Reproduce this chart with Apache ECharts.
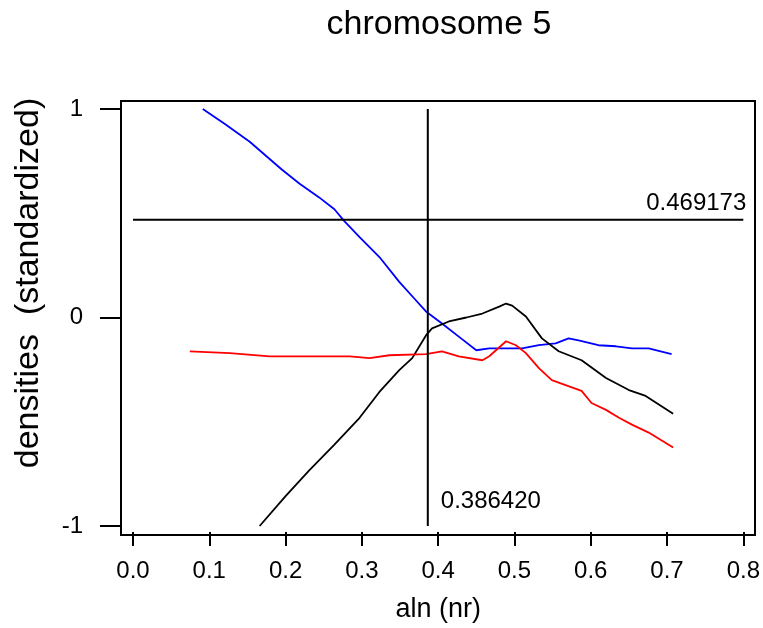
<!DOCTYPE html>
<html><head><meta charset="utf-8">
<script src="https://cdn.jsdelivr.net/npm/echarts@6/dist/echarts.min.js"></script>
<style>html,body{margin:0;padding:0;background:#fff}#c{width:763px;height:628px}</style>
</head><body><div id="c"></div>
<script>
const titleText = 'chromosome 5';
const xName = 'aln (nr)';
const yName = 'densities  (standardized)';
const xTicks = [0.0, 0.1, 0.2, 0.3, 0.4, 0.5, 0.6, 0.7, 0.8];
const yTicks = [-1, 0, 1];

const blueX = [0.0915,0.120,0.153,0.195,0.218,0.244,0.264,0.277,0.297,0.323,0.349,0.369,0.384,0.405,0.430,0.450,0.467,0.489,0.510,0.532,0.554,0.571,0.584,0.610,0.633,0.654,0.676,0.706];
const blueY = [1.0,0.929,0.843,0.710,0.643,0.576,0.519,0.462,0.386,0.290,0.171,0.090,0.029,-0.029,-0.100,-0.157,-0.148,-0.148,-0.148,-0.133,-0.124,-0.100,-0.110,-0.133,-0.138,-0.148,-0.148,-0.176];

const blackX = [0.166,0.200,0.231,0.264,0.297,0.323,0.349,0.366,0.384,0.392,0.414,0.437,0.458,0.480,0.489,0.497,0.515,0.536,0.558,0.588,0.620,0.650,0.672,0.708];
const blackY = [-1.0,-0.857,-0.733,-0.610,-0.481,-0.357,-0.252,-0.195,-0.086,-0.052,-0.019,0.0,0.019,0.052,0.067,0.057,0.005,-0.100,-0.162,-0.205,-0.290,-0.348,-0.376,-0.462];

const redX = [0.0745,0.127,0.179,0.244,0.284,0.310,0.336,0.384,0.405,0.427,0.458,0.467,0.489,0.502,0.515,0.532,0.549,0.567,0.588,0.601,0.620,0.637,0.654,0.676,0.708];
const redY = [-0.162,-0.171,-0.186,-0.186,-0.186,-0.195,-0.181,-0.176,-0.162,-0.186,-0.205,-0.186,-0.114,-0.133,-0.171,-0.243,-0.300,-0.324,-0.352,-0.410,-0.443,-0.481,-0.514,-0.552,-0.624];

const vLineX = 0.386420;
const vLineSpan = [-1, 1];
const hLineY = 0.469173;
const hLineSpan = [0, 0.8];

const zip = (xs, ys) => xs.map((x, i) => [x, ys[i]]);
const FONT = 'Liberation Sans, Arial, sans-serif';
const lblStyle = {fontFamily: FONT, fontSize: 24, color: '#000', opacity: 1};

const chart = echarts.init(document.getElementById('c'), null, {renderer: 'canvas'});
chart.setOption({
  animation: false,
  backgroundColor: '#fff',
  title: {
    text: titleText, left: 434, top: 3, textAlign: 'center',
    textStyle: {fontFamily: FONT, fontSize: 34, fontWeight: 'normal', color: '#000'}
  },
  graphic: [{
    type: 'text', x: 29, y: 283, rotation: Math.PI / 2,
    style: {text: yName, textAlign: 'center', textVerticalAlign: 'middle',
            font: '34px ' + FONT, fill: '#000'}
  }],
  grid: [
    {left: 133, right: 18, top: 109, bottom: 99, show: false},
    {left: 121, right: 8, top: 101, bottom: 93, show: true, borderColor: '#000', borderWidth: 2, backgroundColor: 'transparent'}
  ],
  xAxis: [
    {type: 'value', gridIndex: 0, min: xTicks[0], max: xTicks[xTicks.length-1], interval: 0.1, offset: 6, position: 'bottom',
     name: xName, nameLocation: 'middle', nameGap: 64,
     nameTextStyle: {fontFamily: FONT, fontSize: 27, color: '#000'},
     axisLine: {show: false, onZero: false},
     axisTick: {show: true, length: 14, lineStyle: {color: '#000', width: 2}},
     axisLabel: {margin: 27, fontFamily: FONT, fontSize: 24, color: '#000', formatter: v => v.toFixed(1)},
     splitLine: {show: false}},
    {type: 'value', gridIndex: 1, show: false, min: 0, max: 1}
  ],
  yAxis: [
    {type: 'value', gridIndex: 0, min: yTicks[0], max: yTicks[yTicks.length-1], interval: 1, offset: 12, position: 'left',
     axisLine: {show: false, onZero: false},
     axisTick: {show: true, length: 21, lineStyle: {color: '#000', width: 2}},
     axisLabel: {margin: 38, fontFamily: FONT, fontSize: 24, color: '#000'},
     splitLine: {show: false}},
    {type: 'value', gridIndex: 1, show: false, min: 0, max: 1}
  ],
  series: [
    {type: 'line', name: 'blue', data: zip(blueX, blueY), showSymbol: false, symbol: 'none',
     lineStyle: {color: '#0000ff', width: 1.8}, itemStyle: {color: '#0000ff'}},
    {type: 'line', name: 'black', data: zip(blackX, blackY), showSymbol: false, symbol: 'none',
     lineStyle: {color: '#000', width: 1.8}, itemStyle: {color: '#000'}},
    {type: 'line', name: 'red', data: zip(redX, redY), showSymbol: false, symbol: 'none',
     lineStyle: {color: '#ff0000', width: 1.8}, itemStyle: {color: '#ff0000'}},
    {type: 'line', name: 'vline', data: [[vLineX, vLineSpan[0]], [vLineX, vLineSpan[1]]], symbol: 'none',
     lineStyle: {color: '#000', width: 2}},
    {type: 'line', name: 'hline', data: [[hLineSpan[0], hLineY], [hLineSpan[1], hLineY]], symbol: 'none',
     lineStyle: {color: '#000', width: 2}},
    {type: 'scatter', name: 'labels', symbolSize: 0, silent: true, itemStyle: {opacity: 1},
     data: [
       {value: [hLineSpan[1], hLineY], label: Object.assign({show: true, formatter: hLineY.toFixed(6), position: [3, -4], align: 'right', verticalAlign: 'bottom'}, lblStyle)},
       {value: [vLineX, vLineSpan[0]], label: Object.assign({show: true, formatter: vLineX.toFixed(6), position: [13, -25], align: 'left', verticalAlign: 'middle'}, lblStyle)}
     ]}
  ]
});
</script></body></html>
